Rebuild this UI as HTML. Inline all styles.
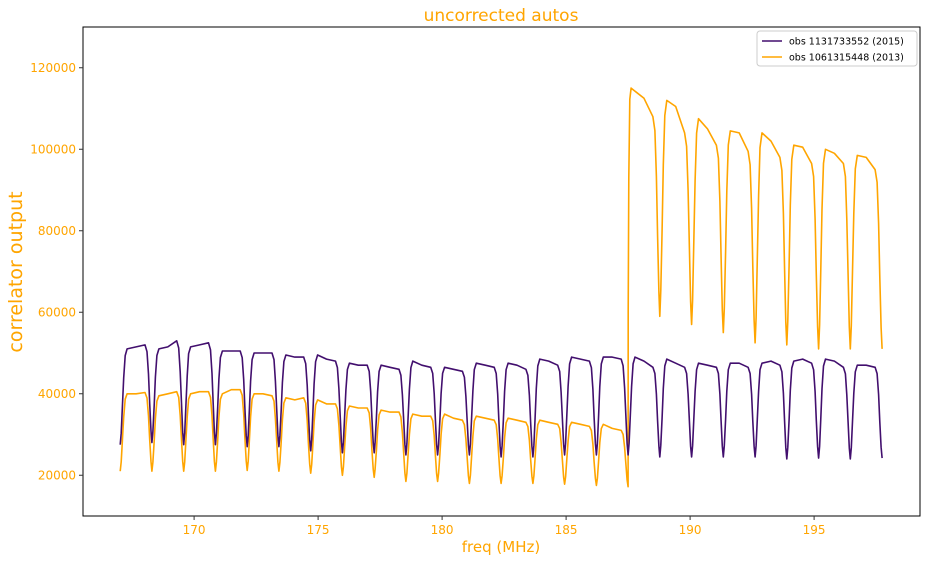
<!DOCTYPE html>
<html><head><meta charset="utf-8"><style>
body{margin:0;background:#fff;width:927px;height:562px;overflow:hidden}
svg{font-family:"DejaVu Sans","Liberation Sans",sans-serif}
</style></head><body>
<svg id="chart" width="927" height="562"></svg>
<script>
const channelWidth = 1.28;
const startFreq = 167.02;
const xTicks = [170,175,180,185,190,195];
const yTicks = [20000,40000,60000,80000,100000,120000];
// purple (2015): per-channel plateau [left, mid, right]
const purpleLevels = [[51000,51500,52000],[51000,51500,53000],[51500,52000,52500],[50500,50500,50500],[50000,50000,50000],[49500,49000,49000],[49500,48500,48000],[47500,47000,47000],[47000,46500,46000],[48000,47000,46500],[46500,46000,45500],[47500,47000,46500],[47500,47000,46000],[48500,48000,47000],[49000,48500,48000],[49000,49000,48500],[49000,48000,46500],[48500,47500,46500],[47500,47000,46500],[47500,47500,46500],[47500,48000,47000],[48000,48500,47500],[48500,48000,46500],[47000,47000,46500]];
const purpleEdges = [27500,28000,27500,27500,27000,27000,26000,25500,25500,25000,25000,25000,24500,24500,25000,25000,25000,24500,24500,24500,24500,24000,24200,24000,24200];
// orange (2013)
const orangeLevels = [[40000,40000,40300],[39500,40000,40500],[40000,40500,40500],[40000,41000,41000],[40000,40000,39500],[39000,38500,39000],[38500,37500,37500],[37000,36500,36500],[36000,35500,35500],[35000,34500,34500],[35000,34000,33500],[34500,34000,33500],[34000,33500,33000],[33500,33000,32500],[33000,32500,32000],[32500,31500,31000],[115000,112500,108000],[112000,110500,104000],[107500,105000,101000],[104500,104000,99500],[104000,102000,98000],[101000,100500,96500],[100000,99000,96500],[98500,98000,95000]];
const orangeEdges = [21000,21000,21000,21000,21200,21000,20500,20000,19500,18500,18500,18000,18000,18000,17800,17500,17200,59000,57000,55000,52500,52000,51000,51000,51000];
const orangeJumpStart = 60000;

const NS="http://www.w3.org/2000/svg";
const svg=document.getElementById('chart');
const L=83,R=920,T=27,B=516,xmin=165.52,xmax=199.27,ymin=10000,ymax=130000;
const X=f=>L+(f-xmin)/(xmax-xmin)*(R-L);
const Y=v=>B-(v-ymin)/(ymax-ymin)*(B-T);
function el(tag,attrs,parent){const e=document.createElementNS(NS,tag);for(const k in attrs)e.setAttribute(k,attrs[k]);(parent||svg).appendChild(e);return e;}
const mix=(a,b,t)=>a+(b-a)*t;

function buildPath(levels,edges,jumpIdx,jumpVal){
  let pts=[];
  const n=levels.length;
  for(let k=0;k<n;k++){
    const f=startFreq+k*channelWidth;
    const lv=levels[k];
    let e=edges[k];
    if(k===0) pts.push([f,e]);
    else if(k===jumpIdx){pts.push([f,e]);pts.push([f+0.005,jumpVal]);e=jumpVal;}
    if(k===jumpIdx){
      pts.push([f+0.03,mix(e,lv[0],0.6)]);
      pts.push([f+0.07,mix(e,lv[0],0.95)]);
      pts.push([f+0.12,lv[0]]);
    } else {
      pts.push([f+0.04,mix(e,lv[0],0.12)]);
      pts.push([f+0.09,mix(e,lv[0],0.4)]);
      pts.push([f+0.14,mix(e,lv[0],0.7)]);
      pts.push([f+0.2,mix(e,lv[0],0.93)]);
      pts.push([f+0.28,lv[0]]);
    }
    pts.push([f+0.64,lv[1]]);
    pts.push([f+1.0,lv[2]]);
    const e2=edges[k+1];
    pts.push([f+1.08,mix(lv[2],e2,0.07)]);
    pts.push([f+1.14,mix(lv[2],e2,0.3)]);
    pts.push([f+1.19,mix(lv[2],e2,0.6)]);
    pts.push([f+1.24,mix(lv[2],e2,0.88)]);
    pts.push([f+1.28,e2]);
  }
  return pts.map((p,i)=>(i?'L':'M')+X(p[0]).toFixed(1)+','+Y(p[1]).toFixed(1)).join(' ');
}

const frame=el('rect',{x:L,y:T,width:R-L,height:B-T,fill:'none',stroke:'#000','stroke-width':1});



const xg=el('g',{});


xTicks.forEach(t=>{
  el('line',{x1:X(t),x2:X(t),y1:B,y2:B+4,stroke:'#333'},xg);
  const tx=el('text',{x:X(t),y:B+18,'text-anchor':'middle','font-size':12,fill:'#ffa500'},xg);
  tx.textContent=t;
  
  
});
const yg=el('g',{});


yTicks.forEach(t=>{
  el('line',{x1:L-4,x2:L,y1:Y(t),y2:Y(t),stroke:'#333'},yg);
  const tx=el('text',{x:L-7,y:Y(t)+4,'text-anchor':'end','font-size':12,fill:'#ffa500'},yg);
  tx.textContent=t;
  
  
});

const po=el('path',{d:buildPath(orangeLevels,orangeEdges,16,orangeJumpStart),fill:'none',stroke:'#ffa500','stroke-width':1.6,'stroke-linejoin':'round'});


const pp=el('path',{d:buildPath(purpleLevels,purpleEdges,-1,0),fill:'none',stroke:'#420f6e','stroke-width':1.6,'stroke-linejoin':'round'});



const title=el('text',{x:501,y:21,'text-anchor':'middle','font-size':17,fill:'#ffa500'});
title.textContent='uncorrected autos';


const xl=el('text',{x:501,y:552,'text-anchor':'middle','font-size':15,fill:'#ffa500'});
xl.textContent='freq (MHz)';


const yl=el('text',{x:0,y:0,'text-anchor':'middle','font-size':19,fill:'#ffa500',transform:'translate(22,272) rotate(-90)'});
yl.textContent='correlator output';



const lg=el('g',{});


el('rect',{x:757,y:31,width:160,height:35,rx:3,fill:'#fff',stroke:'#ccc'},lg);
[['#420f6e','obs 1131733552 (2015)',41],['#ffa500','obs 1061315448 (2013)',57]].forEach(([c,t,y])=>{
  const g=el('g',{},lg);
  
  
  el('line',{x1:762,x2:782,y1:y,y2:y,stroke:c,'stroke-width':1.5},g);
  const tx=el('text',{x:789,y:y+3.5,'font-size':9.5,fill:'#000'},g);
  tx.textContent=t;
});
</script>
</body></html>
